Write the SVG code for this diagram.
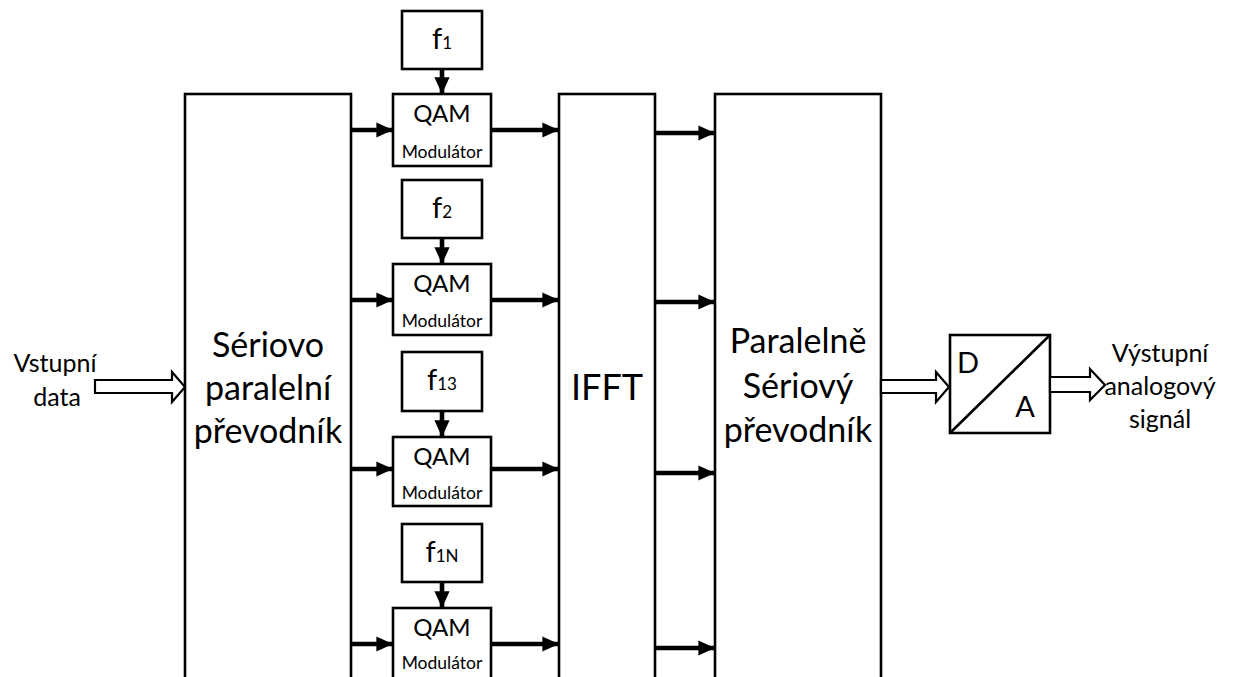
<svg xmlns="http://www.w3.org/2000/svg" width="1243" height="677" viewBox="0 0 1243 677">
<style>
.box{fill:#fff;stroke:#000;stroke-width:2.6}
.t{font-family:Lato,"Open Sans",sans-serif;fill:#000;text-anchor:middle}
.big{font-size:34px}
.lbl{font-size:25px}
.qam{font-size:24px}
.mod{font-size:17.5px}
.f{font-size:29px}
.sub{font-size:17px}
.line{stroke:#000;stroke-width:4.6;fill:none}
.hollow{fill:#fff;stroke:#000;stroke-width:2.2;stroke-linejoin:miter}
</style>
<defs>
<marker id="ah" markerWidth="4" markerHeight="4" refX="3.4" refY="2" orient="auto" markerUnits="strokeWidth" viewBox="0 0 4 4">
<path d="M0,0.35 L3.6,2 L0,3.65 Z" fill="#000"/>
</marker>
</defs>
<rect width="1243" height="677" fill="#fff"/>

<g id="sp">
<rect class="box" x="185" y="94" width="166" height="600"/>
<text class="t big" x="268" y="357">Sériovo</text>
<text class="t big" x="268" y="400">paralelní</text>
<text class="t big" x="268" y="443">převodník</text>
</g>

<g id="ifft">
<rect class="box" x="559" y="94" width="96" height="600"/>
<text class="t big" style="font-size:36px" x="607" y="400">IFFT</text>
</g>

<g id="ps">
<rect class="box" x="715" y="94" width="166" height="600"/>
<text class="t big" x="798" y="353">Paralelně</text>
<text class="t big" x="798" y="398">Sériový</text>
<text class="t big" x="798" y="442">převodník</text>
</g>

<g id="f1"><rect class="box" x="402" y="11" width="80" height="58"/><text class="t f" x="442" y="49">f<tspan class="sub">1</tspan></text></g>
<g id="qam1"><rect class="box" x="393" y="94" width="98" height="72"/><text class="t qam" x="442" y="122">QAM</text><text class="t mod" x="442" y="158">Modulátor</text></g>

<g id="f2"><rect class="box" x="402" y="180" width="80" height="58"/><text class="t f" x="442" y="218">f<tspan class="sub">2</tspan></text></g>
<g id="qam2"><rect class="box" x="393" y="264" width="98" height="71"/><text class="t qam" x="442" y="292">QAM</text><text class="t mod" x="442" y="327">Modulátor</text></g>

<g id="f13"><rect class="box" x="402" y="352" width="80" height="59"/><text class="t f" x="442" y="390">f<tspan class="sub">13</tspan></text></g>
<g id="qam3"><rect class="box" x="393" y="437" width="98" height="69"/><text class="t qam" x="442" y="465">QAM</text><text class="t mod" x="442" y="499">Modulátor</text></g>

<g id="f1N"><rect class="box" x="402" y="524" width="80" height="58"/><text class="t f" x="442" y="562">f<tspan class="sub">1N</tspan></text></g>
<g id="qam4"><rect class="box" x="393" y="608" width="98" height="72"/><text class="t qam" x="442" y="636">QAM</text><text class="t mod" x="442" y="669">Modulátor</text></g>

<g id="da">
<rect class="box" x="950" y="335" width="100" height="98"/>
<line x1="950" y1="433" x2="1050" y2="335" stroke="#000" stroke-width="2.6"/>
<text class="t" style="font-size:29px" x="968" y="373">D</text>
<text class="t" style="font-size:29px" x="1025" y="417">A</text>
</g>

<g id="in-label">
<text class="t lbl" x="55" y="372">Vstupní</text>
<text class="t lbl" x="57" y="406">data</text>
</g>
<g id="out-label">
<text class="t lbl" x="1160" y="362">Výstupní</text>
<text class="t lbl" x="1160" y="395">analogový</text>
<text class="t lbl" x="1160" y="428">signál</text>
</g>

<g id="connectors">
<line class="line" x1="442" y1="69" x2="442" y2="93" marker-end="url(#ah)"/>
<line class="line" x1="442" y1="238" x2="442" y2="263" marker-end="url(#ah)"/>
<line class="line" x1="442" y1="411" x2="442" y2="436" marker-end="url(#ah)"/>
<line class="line" x1="442" y1="582" x2="442" y2="607" marker-end="url(#ah)"/>

<line class="line" x1="351" y1="130" x2="392" y2="130" marker-end="url(#ah)"/>
<line class="line" x1="351" y1="300" x2="392" y2="300" marker-end="url(#ah)"/>
<line class="line" x1="351" y1="469" x2="392" y2="469" marker-end="url(#ah)"/>
<line class="line" x1="351" y1="644" x2="392" y2="644" marker-end="url(#ah)"/>

<line class="line" x1="491" y1="130" x2="558" y2="130" marker-end="url(#ah)"/>
<line class="line" x1="491" y1="300" x2="558" y2="300" marker-end="url(#ah)"/>
<line class="line" x1="491" y1="469" x2="558" y2="469" marker-end="url(#ah)"/>
<line class="line" x1="491" y1="644" x2="558" y2="644" marker-end="url(#ah)"/>

<line class="line" x1="655" y1="133" x2="714" y2="133" marker-end="url(#ah)"/>
<line class="line" x1="655" y1="302" x2="714" y2="302" marker-end="url(#ah)"/>
<line class="line" x1="655" y1="473" x2="714" y2="473" marker-end="url(#ah)"/>
<line class="line" x1="655" y1="648" x2="714" y2="648" marker-end="url(#ah)"/>

<polygon class="hollow" points="95,380 172,380 172,372 185,387 172,402 172,393 95,393"/>
<polygon class="hollow" points="881,380 936,380 936,372 949,387 936,402 936,393 881,393"/>
<polygon class="hollow" points="1050,377 1090,377 1090,369 1105,385 1090,400 1090,392 1050,392"/>
</g>
</svg>
